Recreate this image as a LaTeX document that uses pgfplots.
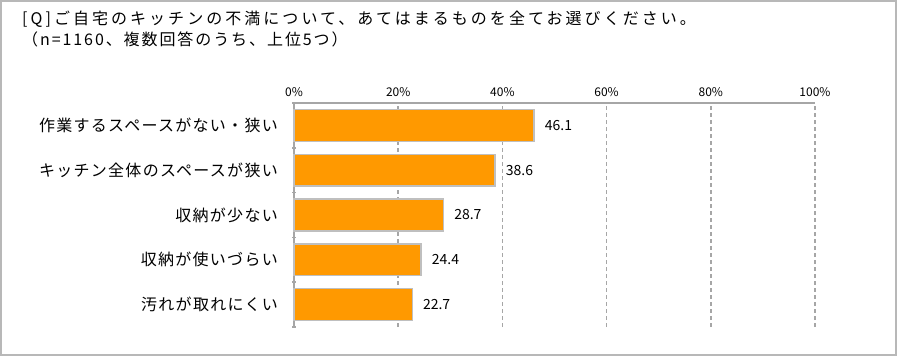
\documentclass[border=0pt]{standalone}
\usepackage{fontspec}
\setmainfont{Noto Sans CJK JP}
\newfontfamily\jp{Noto Sans CJK JP}[LetterSpace=12]
\newfontfamily\jpl{Noto Sans CJK JP}[LetterSpace=8]
\newfontfamily\jpt{Noto Sans CJK JP}[LetterSpace=19]
\usepackage{pgfplots}
\pgfplotsset{compat=1.18}
\definecolor{barorange}{HTML}{FF9900}
\definecolor{bordergray}{HTML}{BFBFBF}
\definecolor{gridgray}{HTML}{A6A6A6}
\definecolor{framegray}{HTML}{B8B8B8}
\begin{document}
\begin{tikzpicture}[x=1bp,y=1bp]
\useasboundingbox (0,0) rectangle (897,-356);
\draw[framegray, line width=2bp] (1,-1) rectangle (896,-355);
\node[anchor=west, inner sep=0pt, font=\jpt\fontsize{16bp}{18bp}\selectfont] at (22,-19) {[Q]ご自宅のキッチンの不満について、あてはまるものを全てお選びください。};
\node[anchor=west, inner sep=0pt, font=\jp\fontsize{16bp}{18bp}\selectfont] at (22,-39) {（n=1160、複数回答のうち、上位5つ）};
\begin{axis}[
  at={(294bp,-103bp)}, anchor=north west,
  scale only axis, width=521bp, height=224bp,
  xbar, bar width=0.71,
  xmin=0, xmax=100, ymin=0.5, ymax=5.5,
  axis x line=top, axis y line=left,
  axis line style={-, draw=gridgray, line width=1.5bp},
  /pgf/number format/assume math mode=true,
  xtick={0,20,40,60,80,100},
  xticklabel={\pgfmathprintnumber{\tick}\%},
  xticklabel style={font=\fontsize{12bp}{14bp}\selectfont, yshift=3bp},
  major tick length=0pt,
  xmajorgrids,
  grid style={draw=gridgray, dash pattern=on 4bp off 3bp, line width=1.5bp},
  ytick={1,2,3,4,5},
  yticklabels={汚れが取れにくい, 収納が使いづらい, 収納が少ない, キッチン全体のスペースが狭い, 作業するスペースがない・狭い},
  yticklabel style={font=\jpl\fontsize{16bp}{18bp}\selectfont, anchor=east, inner sep=0pt, xshift=-16bp},
  extra y ticks={0.5,1.5,2.5,3.5,4.5,5.5},
  extra y tick labels={},
  extra y tick style={major tick length=4bp, tick style={draw=gridgray, line width=1.5bp}, grid=none},
  clip=false,
]
\addplot[fill=barorange, draw=bordergray, line width=1.5bp,
  point meta=x,
  nodes near coords={\pgfmathprintnumber[fixed,fixed zerofill,precision=1]{\pgfplotspointmeta}},
  nodes near coords style={font=\fontsize{14bp}{16bp}\selectfont, anchor=west, inner sep=0pt, xshift=10bp, text=black}]
  coordinates {(22.7,1) (24.4,2) (28.7,3) (38.6,4) (46.1,5)};
\end{axis}
\end{tikzpicture}
\end{document}
